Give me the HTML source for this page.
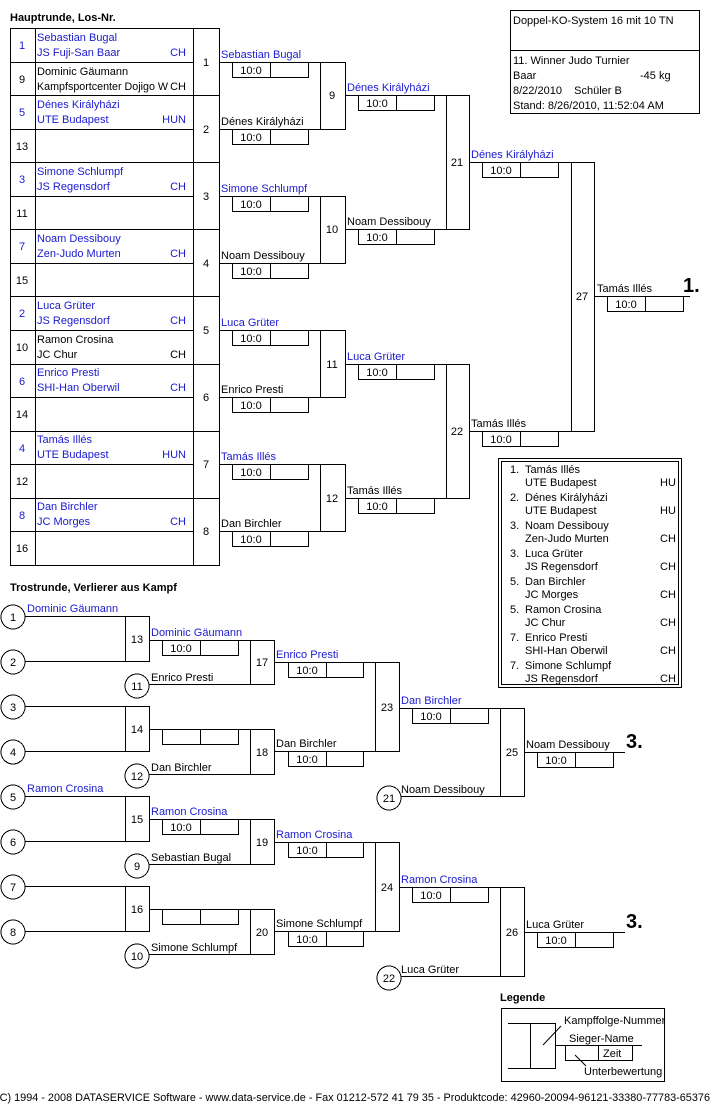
<!DOCTYPE html>
<html><head><meta charset="utf-8"><style>
html,body{margin:0;padding:0;background:#fff;}
svg{display:block;font-family:"Liberation Sans",sans-serif;font-size:11px;}
.b{fill:#1a1ad0}
.bold{font-weight:bold}
</style></head><body>
<svg width="720" height="1110" viewBox="0 0 720 1110" xmlns="http://www.w3.org/2000/svg">
<g fill="none" stroke="#000" stroke-width="1" shape-rendering="crispEdges">
<rect x="10.5" y="28.5" width="183" height="537"/>
<line x1="35.5" y1="28" x2="35.5" y2="565"/>
<path d="M10 62.5H193M10 95.5H193M10 129.5H193M10 162.5H193M10 196.5H193M10 229.5H193M10 263.5H193M10 296.5H193M10 330.5H193M10 364.5H193M10 397.5H193M10 431.5H193M10 464.5H193M10 498.5H193M10 531.5H193"/>
<rect x="193.5" y="28.5" width="26" height="537"/>
<path d="M193 95.5H219M193 162.5H219M193 229.5H219M193 296.5H219M193 364.5H219M193 431.5H219M193 498.5H219"/>
<path d="M219 62.5H320M219 129.5H320M219 196.5H320M219 263.5H320M219 330.5H320M219 397.5H320M219 464.5H320M219 531.5H320"/>
<g>
<rect x="232.5" y="62.5" width="76" height="15"/><line x1="270.5" y1="62" x2="270.5" y2="77"/>
<rect x="232.5" y="129.5" width="76" height="15"/><line x1="270.5" y1="129" x2="270.5" y2="144"/>
<rect x="232.5" y="196.5" width="76" height="15"/><line x1="270.5" y1="196" x2="270.5" y2="211"/>
<rect x="232.5" y="263.5" width="76" height="15"/><line x1="270.5" y1="263" x2="270.5" y2="278"/>
<rect x="232.5" y="330.5" width="76" height="15"/><line x1="270.5" y1="330" x2="270.5" y2="345"/>
<rect x="232.5" y="397.5" width="76" height="15"/><line x1="270.5" y1="397" x2="270.5" y2="412"/>
<rect x="232.5" y="464.5" width="76" height="15"/><line x1="270.5" y1="464" x2="270.5" y2="479"/>
<rect x="232.5" y="531.5" width="76" height="15"/><line x1="270.5" y1="531" x2="270.5" y2="546"/>
</g>
<rect x="320.5" y="62.5" width="25" height="67"/>
<rect x="320.5" y="196.5" width="25" height="67"/>
<rect x="320.5" y="330.5" width="25" height="67"/>
<rect x="320.5" y="464.5" width="25" height="67"/>
<path d="M345 95.5H446M345 229.5H446M345 364.5H446M345 498.5H446"/>
<rect x="358.5" y="95.5" width="76" height="15"/><line x1="396.5" y1="95" x2="396.5" y2="110"/>
<rect x="358.5" y="229.5" width="76" height="15"/><line x1="396.5" y1="229" x2="396.5" y2="244"/>
<rect x="358.5" y="364.5" width="76" height="15"/><line x1="396.5" y1="364" x2="396.5" y2="379"/>
<rect x="358.5" y="498.5" width="76" height="15"/><line x1="396.5" y1="498" x2="396.5" y2="513"/>
<rect x="446.5" y="95.5" width="23" height="134"/>
<rect x="446.5" y="364.5" width="23" height="134"/>
<path d="M469 162.5H571M469 431.5H571"/>
<rect x="482.5" y="162.5" width="76" height="15"/><line x1="520.5" y1="162" x2="520.5" y2="177"/>
<rect x="482.5" y="431.5" width="76" height="15"/><line x1="520.5" y1="431" x2="520.5" y2="446"/>
<rect x="571.5" y="162.5" width="23" height="269"/>
<path d="M594 296.5H690"/>
<rect x="607.5" y="296.5" width="76" height="15"/><line x1="645.5" y1="296" x2="645.5" y2="311"/>
<rect x="510.5" y="10.5" width="189" height="103"/>
<line x1="510" y1="50.5" x2="699" y2="50.5"/>
<rect x="498.5" y="458.5" width="183" height="229"/>
<rect x="501.5" y="461.5" width="177" height="223"/>
<g>
<circle cx="13" cy="617" r="12"/><circle cx="13" cy="662" r="12"/><circle cx="13" cy="707" r="12"/><circle cx="13" cy="752" r="12"/>
<circle cx="13" cy="797" r="12"/><circle cx="13" cy="842" r="12"/><circle cx="13" cy="887" r="12"/><circle cx="13" cy="932" r="12"/>
<circle cx="137" cy="686" r="12"/><circle cx="137" cy="776" r="12"/><circle cx="137" cy="866" r="12"/><circle cx="137" cy="956" r="12"/>
<circle cx="389" cy="798" r="12"/><circle cx="389" cy="978" r="12"/>
</g>
<path d="M25 616.5H125M25 661.5H125M25 706.5H125M25 751.5H125M25 796.5H125M25 841.5H125M25 886.5H125M25 931.5H125"/>
<rect x="125.5" y="616.5" width="24" height="45"/>
<rect x="125.5" y="706.5" width="24" height="45"/>
<rect x="125.5" y="796.5" width="24" height="45"/>
<rect x="125.5" y="886.5" width="24" height="45"/>
<path d="M149 640.5H250M149 729.5H250M149 819.5H250M149 909.5H250M149 684.5H250M149 774.5H250M149 864.5H250M149 954.5H250"/>
<rect x="162.5" y="640.5" width="76" height="15"/><line x1="200.5" y1="640" x2="200.5" y2="655"/>
<rect x="162.5" y="729.5" width="76" height="15"/><line x1="200.5" y1="729" x2="200.5" y2="744"/>
<rect x="162.5" y="819.5" width="76" height="15"/><line x1="200.5" y1="819" x2="200.5" y2="834"/>
<rect x="162.5" y="909.5" width="76" height="15"/><line x1="200.5" y1="909" x2="200.5" y2="924"/>
<rect x="250.5" y="640.5" width="24" height="44"/>
<rect x="250.5" y="729.5" width="24" height="45"/>
<rect x="250.5" y="819.5" width="24" height="45"/>
<rect x="250.5" y="909.5" width="24" height="45"/>
<path d="M274 662.5H375M274 751.5H375M274 842.5H375M274 931.5H375"/>
<rect x="288.5" y="662.5" width="75" height="15"/><line x1="326.5" y1="662" x2="326.5" y2="677"/>
<rect x="288.5" y="751.5" width="75" height="15"/><line x1="326.5" y1="751" x2="326.5" y2="766"/>
<rect x="288.5" y="842.5" width="75" height="15"/><line x1="326.5" y1="842" x2="326.5" y2="857"/>
<rect x="288.5" y="931.5" width="75" height="15"/><line x1="326.5" y1="931" x2="326.5" y2="946"/>
<rect x="375.5" y="662.5" width="24" height="89"/>
<rect x="375.5" y="842.5" width="24" height="89"/>
<path d="M399 708.5H500M399 887.5H500M401 796.5H500M401 976.5H500"/>
<rect x="412.5" y="708.5" width="76" height="15"/><line x1="450.5" y1="708" x2="450.5" y2="723"/>
<rect x="412.5" y="887.5" width="76" height="15"/><line x1="450.5" y1="887" x2="450.5" y2="902"/>
<rect x="500.5" y="708.5" width="24" height="88"/>
<rect x="500.5" y="887.5" width="24" height="89"/>
<path d="M524 752.5H625M524 932.5H625"/>
<rect x="537.5" y="752.5" width="76" height="15"/><line x1="575.5" y1="752" x2="575.5" y2="767"/>
<rect x="537.5" y="932.5" width="76" height="15"/><line x1="575.5" y1="932" x2="575.5" y2="947"/>
<rect x="501.5" y="1008.5" width="163" height="73"/>
<path d="M508 1023.5H530M508 1068.5H530M555 1045.5H642"/>
<rect x="530.5" y="1023.5" width="25" height="45"/>
<rect x="565.5" y="1045.5" width="67" height="15"/><line x1="598.5" y1="1045" x2="598.5" y2="1060"/>
</g>
<path d="M543 1045L561 1026M575 1055L586 1066" stroke="#000" fill="none"/>

<g fill="#000">
<text x="10" y="21" class="bold">Hauptrunde, Los-Nr.</text>
<g text-anchor="middle">
<text x="22" y="49" class="b">1</text><text x="22" y="83">9</text><text x="22" y="116" class="b">5</text><text x="22" y="150">13</text>
<text x="22" y="183" class="b">3</text><text x="22" y="217">11</text><text x="22" y="250" class="b">7</text><text x="22" y="284">15</text>
<text x="22" y="317" class="b">2</text><text x="22" y="351">10</text><text x="22" y="385" class="b">6</text><text x="22" y="418">14</text>
<text x="22" y="452" class="b">4</text><text x="22" y="485">12</text><text x="22" y="519" class="b">8</text><text x="22" y="552">16</text>
<text x="206" y="66">1</text><text x="206" y="133">2</text><text x="206" y="200">3</text><text x="206" y="267">4</text>
<text x="206" y="334">5</text><text x="206" y="401">6</text><text x="206" y="468">7</text><text x="206" y="535">8</text>
<text x="332" y="99">9</text><text x="332" y="233">10</text><text x="332" y="368">11</text><text x="332" y="502">12</text>
<text x="457" y="166">21</text><text x="457" y="435">22</text>
<text x="582" y="300">27</text>
</g>
<g class="b">
<text x="37" y="41">Sebastian Bugal</text><text x="37" y="56">JS Fuji-San Baar</text>
<text x="37" y="108">Dénes Királyházi</text><text x="37" y="123">UTE Budapest</text>
<text x="37" y="175">Simone Schlumpf</text><text x="37" y="190">JS Regensdorf</text>
<text x="37" y="242">Noam Dessibouy</text><text x="37" y="257">Zen-Judo Murten</text>
<text x="37" y="309">Luca Grüter</text><text x="37" y="324">JS Regensdorf</text>
<text x="37" y="376">Enrico Presti</text><text x="37" y="391">SHI-Han Oberwil</text>
<text x="37" y="443">Tamás Illés</text><text x="37" y="458">UTE Budapest</text>
<text x="37" y="510">Dan Birchler</text><text x="37" y="525"> JC Morges</text>
</g>
<text x="37" y="75">Dominic Gäumann</text><text x="37" y="90" textLength="131" lengthAdjust="spacingAndGlyphs">Kampfsportcenter Dojigo W</text>
<text x="37" y="343">Ramon Crosina</text><text x="37" y="358">JC Chur</text>
<g text-anchor="end">
<text x="186" y="56" class="b">CH</text><text x="186" y="90">CH</text><text x="186" y="123" class="b">HUN</text>
<text x="186" y="190" class="b">CH</text><text x="186" y="257" class="b">CH</text><text x="186" y="324" class="b">CH</text>
<text x="186" y="358">CH</text><text x="186" y="391" class="b">CH</text><text x="186" y="458" class="b">HUN</text><text x="186" y="525" class="b">CH</text>
</g>
<text x="221" y="58" class="b">Sebastian Bugal</text>
<text x="221" y="125">Dénes Királyházi</text>
<text x="221" y="192" class="b">Simone Schlumpf</text>
<text x="221" y="259">Noam Dessibouy</text>
<text x="221" y="326" class="b">Luca Grüter</text>
<text x="221" y="393">Enrico Presti</text>
<text x="221" y="460" class="b">Tamás Illés</text>
<text x="221" y="527">Dan Birchler</text>
<text x="347" y="91" class="b">Dénes Királyházi</text>
<text x="347" y="225">Noam Dessibouy</text>
<text x="347" y="360" class="b">Luca Grüter</text>
<text x="347" y="494">Tamás Illés</text>
<text x="471" y="158" class="b">Dénes Királyházi</text>
<text x="471" y="427">Tamás Illés</text>
<text x="597" y="292">Tamás Illés</text>
<text x="683" y="292" class="bold" font-size="20">1.</text>
<g text-anchor="middle">
<text x="251" y="74">10:0</text><text x="251" y="141">10:0</text><text x="251" y="208">10:0</text><text x="251" y="275">10:0</text>
<text x="251" y="342">10:0</text><text x="251" y="409">10:0</text><text x="251" y="476">10:0</text><text x="251" y="543">10:0</text>
<text x="377" y="107">10:0</text><text x="377" y="241">10:0</text><text x="377" y="376">10:0</text><text x="377" y="510">10:0</text>
<text x="501" y="174">10:0</text><text x="501" y="443">10:0</text>
<text x="626" y="308">10:0</text>
</g>
<text x="513" y="24">Doppel-KO-System 16 mit 10 TN</text>
<text x="513" y="64">11. Winner Judo Turnier</text>
<text x="513" y="79">Baar</text><text x="640" y="79">-45 kg</text>
<text x="513" y="94">8/22/2010&#160;&#160;&#160;&#160;Schüler B</text>
<text x="513" y="109">Stand: 8/26/2010, 11:52:04 AM</text>
<g>
<text x="510" y="473">1.</text><text x="525" y="473">Tamás Illés</text>
<text x="525" y="486">UTE Budapest</text><text x="660" y="486">HU</text>
<text x="510" y="501">2.</text><text x="525" y="501">Dénes Királyházi</text>
<text x="525" y="514">UTE Budapest</text><text x="660" y="514">HU</text>
<text x="510" y="529">3.</text><text x="525" y="529">Noam Dessibouy</text>
<text x="525" y="542">Zen-Judo Murten</text><text x="660" y="542">CH</text>
<text x="510" y="557">3.</text><text x="525" y="557">Luca Grüter</text>
<text x="525" y="570">JS Regensdorf</text><text x="660" y="570">CH</text>
<text x="510" y="585">5.</text><text x="525" y="585">Dan Birchler</text>
<text x="525" y="598"> JC Morges</text><text x="660" y="598">CH</text>
<text x="510" y="613">5.</text><text x="525" y="613">Ramon Crosina</text>
<text x="525" y="626">JC Chur</text><text x="660" y="626">CH</text>
<text x="510" y="641">7.</text><text x="525" y="641">Enrico Presti</text>
<text x="525" y="654">SHI-Han Oberwil</text><text x="660" y="654">CH</text>
<text x="510" y="669">7.</text><text x="525" y="669">Simone Schlumpf</text>
<text x="525" y="682">JS Regensdorf</text><text x="660" y="682">CH</text>
</g>
<text x="10" y="591" class="bold">Trostrunde, Verlierer aus Kampf</text>
<g text-anchor="middle">
<text x="13" y="621">1</text><text x="13" y="666">2</text><text x="13" y="711">3</text><text x="13" y="756">4</text>
<text x="13" y="801">5</text><text x="13" y="846">6</text><text x="13" y="891">7</text><text x="13" y="936">8</text>
<text x="137" y="690">11</text><text x="137" y="780">12</text><text x="137" y="870">9</text><text x="137" y="960">10</text>
<text x="389" y="802">21</text><text x="389" y="982">22</text>
<text x="137" y="643">13</text><text x="137" y="733">14</text><text x="137" y="823">15</text><text x="137" y="913">16</text>
<text x="262" y="666">17</text><text x="262" y="756">18</text><text x="262" y="846">19</text><text x="262" y="936">20</text>
<text x="387" y="711">23</text><text x="387" y="891">24</text>
<text x="512" y="756">25</text><text x="512" y="936">26</text>
<text x="181" y="652">10:0</text><text x="181" y="831">10:0</text>
<text x="307" y="674">10:0</text><text x="307" y="763">10:0</text><text x="307" y="854">10:0</text><text x="307" y="943">10:0</text>
<text x="431" y="720">10:0</text><text x="431" y="899">10:0</text>
<text x="556" y="764">10:0</text><text x="556" y="944">10:0</text>
</g>
<text x="27" y="612" class="b">Dominic Gäumann</text>
<text x="151" y="636" class="b">Dominic Gäumann</text>
<text x="151" y="681">Enrico Presti</text>
<text x="276" y="658" class="b">Enrico Presti</text>
<text x="151" y="771">Dan Birchler</text>
<text x="276" y="747">Dan Birchler</text>
<text x="401" y="704" class="b">Dan Birchler</text>
<text x="401" y="793">Noam Dessibouy</text>
<text x="526" y="748">Noam Dessibouy</text>
<text x="626" y="748" class="bold" font-size="20">3.</text>
<text x="27" y="792" class="b">Ramon Crosina</text>
<text x="151" y="815" class="b">Ramon Crosina</text>
<text x="151" y="861">Sebastian Bugal</text>
<text x="276" y="838" class="b">Ramon Crosina</text>
<text x="151" y="951">Simone Schlumpf</text>
<text x="276" y="927">Simone Schlumpf</text>
<text x="401" y="883" class="b">Ramon Crosina</text>
<text x="401" y="973">Luca Grüter</text>
<text x="526" y="928">Luca Grüter</text>
<text x="626" y="928" class="bold" font-size="20">3.</text>
<text x="500" y="1001" class="bold">Legende</text>
<text x="564" y="1024">Kampffolge-Nummer</text>
<text x="569" y="1042">Sieger-Name</text>
<text x="603" y="1057">Zeit</text>
<text x="584" y="1075">Unterbewertung</text>
<text x="-4" y="1101" textLength="714" lengthAdjust="spacingAndGlyphs">(C) 1994 - 2008 DATASERVICE Software - www.data-service.de - Fax 01212-572 41 79 35 - Produktcode: 42960-20094-96121-33380-77783-65376</text>
</g>
</svg>
</body></html>
